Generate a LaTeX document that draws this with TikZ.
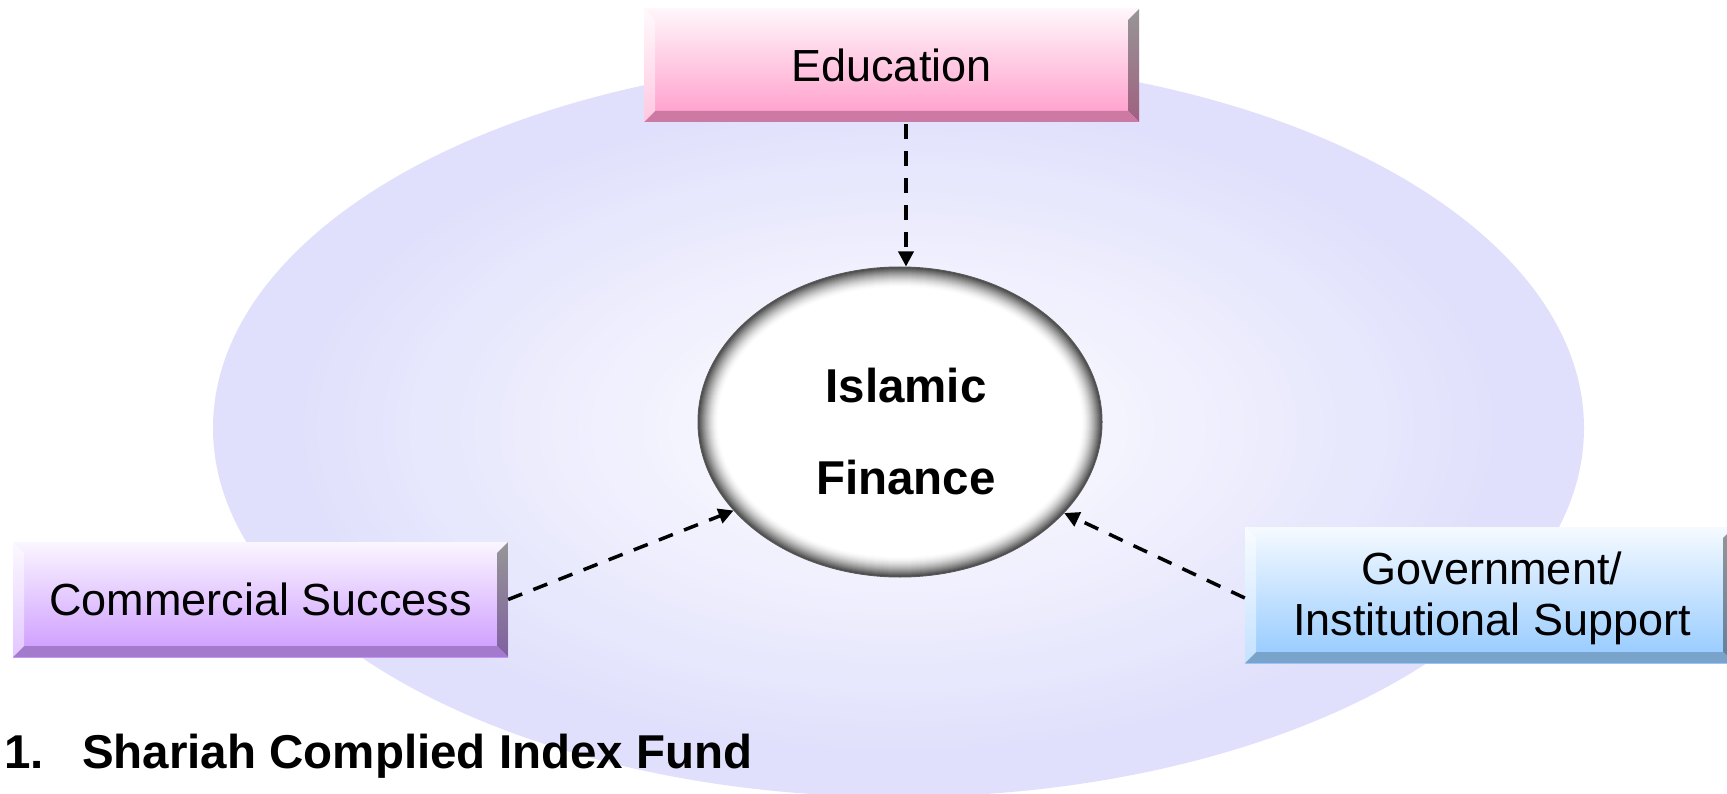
\documentclass[tikz,border=0pt]{standalone}
\usepackage{fontspec}
\setmainfont{Liberation Sans}
\usetikzlibrary{arrows.meta,shapes.geometric,calc}

\definecolor{bgIn}{RGB}{250,250,255}
\definecolor{bgOut}{RGB}{224,224,252}
\definecolor{eduC}{RGB}{255,160,204}
\definecolor{eduB}{RGB}{204,122,163}
\definecolor{eduR}{RGB}{160,96,128}
\definecolor{comC}{RGB}{204,153,255}
\definecolor{comB}{RGB}{163,122,204}
\definecolor{comR}{RGB}{128,96,160}
\definecolor{govC}{RGB}{153,204,255}
\definecolor{govB}{RGB}{122,163,204}
\definecolor{govR}{RGB}{96,128,160}
\definecolor{rimTop}{RGB}{150,150,150}

\pgfdeclareverticalshading{eduface}{100bp}{color(0bp)=(eduC); color(28bp)=(eduC); color(80bp)=(white); color(100bp)=(white)}
\pgfdeclareverticalshading{comface}{100bp}{color(0bp)=(comC); color(25bp)=(comC); color(80bp)=(white); color(100bp)=(white)}
\pgfdeclareverticalshading{govface}{100bp}{color(0bp)=(govC); color(28bp)=(govC); color(80bp)=(white); color(100bp)=(white)}

\tikzset{
  bevelbox/.style n args={3}{rectangle, draw=none, shading=#1, inner sep=0pt,
    align=center, text=black, font=\fontsize{45}{51}\selectfont,
    path picture={
      \shade[top color=rimTop, bottom color=#3]
        (path picture bounding box.north east) -- (path picture bounding box.south east)
        -- ([shift={(-11pt,11pt)}]path picture bounding box.south east)
        -- ([shift={(-11pt,-11pt)}]path picture bounding box.north east) -- cycle;
      \fill[#2]
        (path picture bounding box.south west) -- (path picture bounding box.south east)
        -- ([shift={(-11pt,11pt)}]path picture bounding box.south east)
        -- ([shift={(11pt,11pt)}]path picture bounding box.south west) -- cycle;
      \fill[white,opacity=.45]
        (path picture bounding box.north west)
        -- ([shift={(11pt,-11pt)}]path picture bounding box.north west)
        -- ([shift={(11pt,11pt)}]path picture bounding box.south west)
        -- (path picture bounding box.south west) -- cycle;
    }},
  conn/.style={line width=3.5pt, dash pattern=on 15pt off 12pt,
    -{Triangle[length=15pt,width=15pt]}},
  bigtext/.style={font=\fontsize{47.5}{92}\selectfont\bfseries, text=black}
}

\begin{document}
\begin{tikzpicture}[x=1pt,y=-1pt]
\useasboundingbox (0,0) rectangle (1727,794);

% background ellipse: layered radial gradient
\foreach \k in {0,...,45}{
  \pgfmathsetmacro\s{1-0.019*\k}
  \pgfmathsetmacro\pc{min(100,max(0,(\s-0.15)/0.75*100))}
  \fill[bgOut!\pc!bgIn] (898.5,428) ellipse [x radius=685.5*\s, y radius=369*\s];
}

% boxes
\node[bevelbox={eduface}{eduB}{eduR}, minimum width=495pt, minimum height=113pt,
      text depth=-2pt] (edu) at (891.5,65.5) {Education};
\node[bevelbox={comface}{comB}{comR}, minimum width=495pt, minimum height=115pt,
      text depth=-2pt] (com) at (260.5,599.5) {Commercial Success};
\node[bevelbox={govface}{govB}{govR}, minimum width=489pt, minimum height=136pt] (gov) at (1489.5,595) {};
\node[font=\fontsize{45}{51}\selectfont, align=center, inner sep=0pt] (govtext) at (1492,598.5) {Government/\\Institutional Support};

% centre: rim gradient layers
\foreach \d in {0,...,20}{
  \pgfmathsetmacro\pc{72*(1-\d/20)^1.6}
  \fill[black!\pc!white] (900,422) ellipse [x radius=202-\d, y radius=155-\d];
}
\node[ellipse, minimum width=404pt, minimum height=310pt, inner sep=0pt,
      draw=black!65, line width=1pt] (fin) at (900,422) {};
\node[bigtext, align=center, inner sep=0pt] (fintext) at (906,432) {Islamic\\Finance};

% connectors
\draw[conn] ($(edu.south)+(14.5,2)$) -- ($(fin.north)+(6,0)$);
\draw[conn] (com.east) -- (fin.208);
\draw[conn] ($(gov.west)+(0,3)$) -- (fin.331);

% bottom line
\node[bigtext, anchor=base west, inner sep=0pt] (num) at (4,768) {1.};
\node[bigtext, anchor=base west, inner sep=0pt] (idx) at (82,768) {Shariah Complied Index Fund};
\end{tikzpicture}
\end{document}
